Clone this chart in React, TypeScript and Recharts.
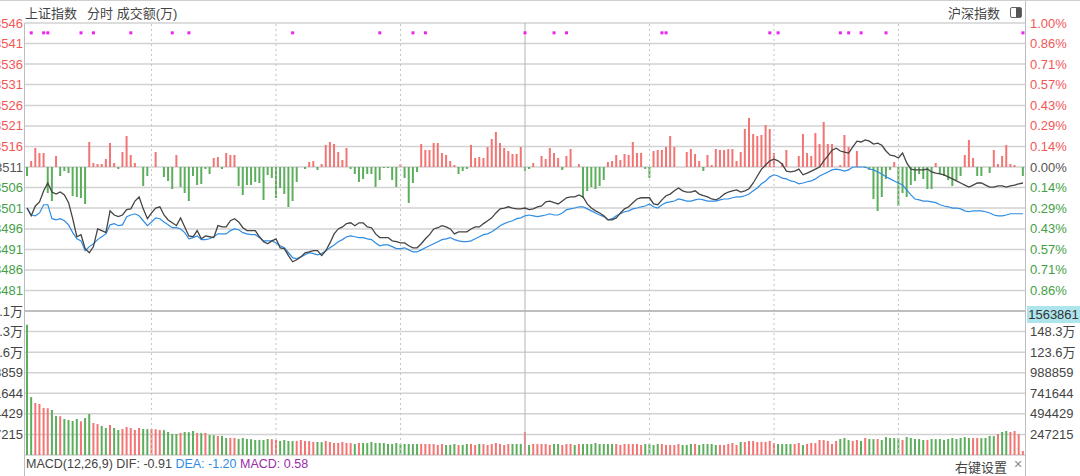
import React from 'react';
import { ComposedChart, Line, Bar, Cell, XAxis, YAxis, CartesianGrid, ReferenceLine } from 'recharts';

// 上证指数 分时 (241 minutes, 09:30 - 15:00)
const PRE_CLOSE = 3511.0;

const priceTicks = [3546.1, 3541.1, 3536.1, 3531.1, 3526.0, 3521.0, 3516.0, 3511.0, 3506.0, 3501.0, 3495.9, 3490.9, 3485.9, 3480.9, 3475.9];
const pctLabels = ['1.00%', '0.86%', '0.71%', '0.57%', '0.43%', '0.29%', '0.14%', '0.00%', '0.14%', '0.29%', '0.43%', '0.57%', '0.71%', '0.86%', '1.00%'];
const volTicks = [0, 247215, 494429, 741644, 988859, 1236074, 1483289, 1730503];

const halfHourMarks = [30, 60, 90, 150, 180, 210];
const NOON = 120;

const signalMinutes = [1, 4, 5, 13, 16, 25, 35, 39, 64, 85, 93, 96, 120, 127, 130, 153, 154, 179, 181, 196, 198, 201, 207, 240];
const SIGNAL_LEVEL = 3543.7;

const macd = { dif: -0.91, dea: -1.2, hist: 0.58 };

// index (black)
const shIndex = [
    3501.0, 3499.1, 3501.5, 3502.5, 3505.2, 3507.1, 3504.9, 3504.4, 3504.9, 3504.2,
    3502.3, 3498.4, 3494.0, 3494.5, 3491.1, 3490.1, 3491.6, 3495.9, 3495.5, 3495.0,
    3500.3, 3499.3, 3498.9, 3499.3, 3500.6, 3500.8, 3502.7, 3503.7, 3500.8, 3498.4,
    3499.8, 3501.0, 3501.3, 3499.3, 3498.1, 3497.4, 3496.7, 3498.6, 3496.4, 3494.2,
    3494.0, 3495.5, 3493.5, 3494.2, 3494.0, 3493.8, 3496.7, 3496.4, 3496.4, 3497.9,
    3498.4, 3497.6, 3496.2, 3495.5, 3495.5, 3495.5, 3494.0, 3492.8, 3492.3, 3493.0,
    3493.5, 3491.3, 3491.1, 3489.4, 3487.9, 3488.4, 3489.1, 3490.1, 3490.3, 3490.6,
    3490.6, 3489.4, 3490.6, 3492.5, 3494.7, 3495.9, 3496.4, 3497.2, 3497.4, 3496.7,
    3497.4, 3497.4, 3496.4, 3496.2, 3494.7, 3493.8, 3493.8, 3493.8, 3493.0, 3492.8,
    3492.5, 3492.5, 3491.8, 3491.3, 3491.3, 3492.3, 3493.5, 3494.5, 3495.9, 3496.2,
    3496.7, 3496.4, 3495.9, 3494.7, 3495.2, 3495.2, 3495.2, 3495.9, 3496.4, 3496.4,
    3497.2, 3497.9, 3498.6, 3499.8, 3500.8, 3501.0, 3501.3, 3501.0, 3500.8, 3500.8,
    3501.0, 3500.6, 3500.8, 3501.3, 3501.5, 3502.5, 3502.7, 3502.3, 3502.0, 3502.7,
    3503.5, 3503.7, 3503.7, 3504.2, 3503.7, 3502.0, 3501.0, 3500.3, 3499.8, 3499.1,
    3498.1, 3498.1, 3498.6, 3499.8, 3500.8, 3501.3, 3502.3, 3503.2, 3503.5, 3503.5,
    3503.5, 3502.0, 3501.8, 3503.0, 3504.0, 3504.4, 3505.2, 3505.9, 3505.2, 3504.9,
    3504.9, 3505.2, 3504.4, 3504.0, 3503.7, 3503.2, 3503.0, 3503.5, 3504.4, 3504.9,
    3505.2, 3505.4, 3504.9, 3505.2, 3505.7, 3507.1, 3508.8, 3510.5, 3511.5, 3512.5,
    3512.9, 3512.5, 3511.7, 3510.0, 3509.8, 3510.0, 3510.5, 3509.1, 3509.5, 3510.0,
    3510.5, 3511.0, 3512.5, 3513.7, 3515.1, 3515.6, 3514.9, 3514.6, 3514.4, 3515.9,
    3517.3, 3517.1, 3517.6, 3517.3, 3516.6, 3516.8, 3516.3, 3514.9, 3513.9, 3513.7,
    3513.2, 3514.4, 3512.0, 3510.5, 3510.3, 3510.3, 3510.3, 3510.5, 3509.8, 3509.5,
    3509.3, 3509.1, 3508.6, 3508.1, 3507.6, 3507.1, 3506.6, 3506.1, 3506.6, 3507.1,
    3507.1, 3506.6, 3506.1, 3506.1, 3506.4, 3506.4, 3506.1, 3506.4, 3506.6, 3506.9,
    3507.1,
];

// blue line
const avgPrice = [
    3501.0, 3499.3, 3499.1, 3499.8, 3501.8, 3501.8, 3498.4, 3498.1, 3498.4, 3497.9,
    3496.9, 3495.0, 3493.5, 3493.0, 3490.6, 3491.6, 3492.3, 3493.3, 3494.0, 3494.7,
    3496.9, 3497.2, 3496.7, 3496.9, 3498.9, 3499.3, 3499.6, 3499.1, 3497.9, 3496.7,
    3497.6, 3498.6, 3498.4, 3497.6, 3496.9, 3496.2, 3496.2, 3495.9, 3495.0, 3493.5,
    3493.8, 3494.2, 3493.3, 3493.3, 3493.5, 3494.0, 3494.7, 3494.7, 3494.7, 3495.5,
    3495.9, 3495.7, 3495.0, 3494.7, 3494.5, 3494.5, 3493.8, 3493.0, 3493.0, 3493.0,
    3492.5, 3491.8, 3491.3, 3490.1, 3488.9, 3488.6, 3489.1, 3489.6, 3490.1, 3489.9,
    3489.6, 3489.9, 3490.6, 3491.3, 3492.0, 3492.8, 3493.3, 3494.0, 3494.2, 3494.0,
    3493.8, 3493.8, 3493.5, 3493.3, 3492.5, 3491.8, 3492.0, 3492.0, 3491.6, 3491.1,
    3491.1, 3491.3, 3490.8, 3490.3, 3490.3, 3490.8, 3491.3, 3491.8, 3492.3, 3492.8,
    3493.3, 3493.5, 3493.8, 3493.3, 3493.0, 3492.8, 3492.8, 3493.0, 3493.5, 3494.0,
    3494.5, 3494.7, 3495.2, 3495.9, 3496.7, 3497.2, 3497.6, 3497.9, 3498.4, 3498.6,
    3499.1, 3499.3, 3499.1, 3498.9, 3499.1, 3499.3, 3499.6, 3499.3, 3499.3, 3499.8,
    3500.6, 3500.8, 3501.0, 3501.3, 3501.3, 3500.8, 3500.3, 3499.8, 3499.3, 3498.9,
    3498.1, 3498.4, 3499.1, 3499.6, 3500.1, 3500.3, 3500.8, 3501.0, 3501.3, 3501.5,
    3502.0, 3501.3, 3501.0, 3501.8, 3502.3, 3502.5, 3502.7, 3503.2, 3503.0, 3502.7,
    3502.7, 3503.0, 3503.2, 3503.0, 3502.7, 3502.7, 3502.7, 3503.0, 3503.2, 3503.2,
    3503.5, 3503.7, 3503.7, 3504.0, 3504.4, 3505.2, 3505.9, 3506.9, 3507.6, 3508.6,
    3509.1, 3508.8, 3508.3, 3508.1, 3507.6, 3507.4, 3506.9, 3507.1, 3507.4, 3507.6,
    3508.1, 3508.8, 3509.3, 3509.8, 3510.3, 3510.5, 3510.3, 3510.0, 3510.3, 3511.0,
    3511.0, 3511.0, 3511.0, 3510.5, 3510.3, 3509.8, 3509.3, 3508.6, 3508.1, 3507.6,
    3507.1, 3506.6, 3505.4, 3504.2, 3503.2, 3503.0, 3502.7, 3502.7, 3502.5, 3502.3,
    3501.8, 3501.5, 3501.3, 3501.0, 3501.0, 3500.8, 3500.3, 3500.1, 3500.3, 3500.3,
    3500.3, 3500.1, 3499.8, 3499.3, 3499.1, 3499.1, 3499.3, 3499.6, 3499.6, 3499.6,
    3499.6,
];

// red / green strength bars around the pre-close line
const strength = [
    -9, 6, 19, 14, 14, -26, -34, 11, -9, -4,
    -6, -29, -30, -31, -37, 25, 4, 3, 3, 8,
    24, 4, -2, 15, 31, 12, 4, 0, -19, -9,
    0, 15, 0, -10, -14, -22, 12, -20, -26, -34,
    -9, -18, -17, -2, -7, 9, 10, -2, 14, 12,
    12, -19, -28, -18, -18, -15, -16, -33, -8, -11,
    -31, -21, -27, -40, -34, -15, 0, -2, 5, 6,
    -3, 3, 22, 25, 23, 15, 7, 19, -2, -7,
    -15, -12, -7, -7, -20, -13, -1, -1, -13, -20,
    3, -11, -36, -16, -5, 23, 17, 17, 24, 24,
    14, 12, 6, 2, -7, -4, -2, 22, 9, 10,
    9, 20, 28, 35, 24, 19, 16, 13, 13, 20,
    -4, -2, 4, 0, 11, 8, 19, 14, 9, -3,
    11, 18, 0, 3, -31, -24, -20, -22, -19, -13,
    5, 6, 12, 7, 13, 12, 25, 14, 14, -2,
    -11, 16, 17, 17, 20, 31, 20, 0, 0, 15,
    18, 13, 6, -4, 12, 2, 18, 17, 17, 18,
    18, 6, 15, 38, 49, 33, 31, 32, 42, 38,
    14, 0, 4, 17, 0, 0, 11, 33, 14, 11,
    34, 23, 45, 23, 23, 0, 2, 32, 20, 0,
    16, 0, -1, -3, -32, -44, -30, -12, -3, 5,
    -39, -26, -30, -18, -14, -7, -12, -22, -22, 4,
    -7, -9, -13, -19, -13, -9, 12, 27, 9, -9,
    -9, 0, -6, 17, 3, 11, 22, 3, 2, 0,
    -9,
];

// 成交额
const volume = [
    1563861, 697000, 624900, 612900, 564800, 561200, 540800, 468700, 466300, 432600,
    420600, 408600, 432600, 404900, 444700, 492700, 384600, 372600, 348500, 324500,
    360500, 324500, 300500, 312500, 336500, 324500, 300500, 324500, 312500, 310900,
    312500, 309600, 300500, 298700, 276400, 252400, 252400, 264400, 276400, 274100,
    288400, 264400, 262800, 264400, 240400, 238100, 228300, 229500, 204300, 206600,
    204300, 192300, 204300, 192300, 190100, 180300, 181900, 180300, 192300, 190500,
    180300, 168300, 180300, 168300, 167000, 168300, 180300, 168300, 166400, 156200,
    156200, 154900, 168300, 156200, 144200, 145600, 156200, 144200, 143100, 132200,
    144200, 144200, 142800, 156200, 144200, 144200, 143500, 132200, 132200, 144200,
    132200, 133400, 132200, 131100, 132200, 133900, 132200, 132200, 131300, 120200,
    132200, 120200, 121800, 132200, 120200, 122500, 132200, 133100, 120200, 132200,
    131000, 120200, 132200, 144200, 132200, 120200, 132200, 131400, 132200, 133300,
    276400, 120200, 132200, 131200, 132200, 133000, 120200, 132200, 131500, 120200,
    132200, 133600, 120200, 132200, 131000, 132200, 133100, 144200, 132200, 131800,
    132200, 133400, 132200, 120200, 132200, 131300, 132200, 133700, 120200, 132200,
    131600, 120200, 132200, 133000, 120200, 121400, 120200, 132200, 120200, 121900,
    132200, 131700, 120200, 132200, 133200, 132200, 120200, 121100, 120200, 132200,
    144200, 120200, 156200, 154600, 168300, 166800, 156200, 157400, 156200, 168300,
    144200, 132200, 131500, 132200, 133000, 132200, 144200, 120200, 132200, 144200,
    142600, 180300, 178800, 168300, 132200, 168300, 192300, 204300, 180300, 168300,
    180300, 168300, 204300, 192300, 190800, 192300, 180300, 216300, 204300, 202900,
    204300, 180300, 216300, 204300, 192300, 191200, 180300, 181500, 192300, 190700,
    192300, 180300, 192300, 204300, 192300, 204300, 216300, 204300, 203100, 204300,
    202600, 204300, 228300, 226900, 252400, 276400, 288400, 276400, 288400, 252400,
    48100,
];

const FONT = '"Liberation Sans", "Noto Sans CJK SC", sans-serif';
const RED = '#f47474';
const GREEN = '#5cae5c';
const RED_TXT = '#f25757';
const GREEN_TXT = '#45a045';
const GRID = '#d2d2d2';

const rows = shIndex.map((v, i) => ({
    i,
    price: v,
    avg: avgPrice[i],
    str: strength[i],
    vol: volume[i],
    up: v > (i === 0 ? PRE_CLOSE : shIndex[i - 1]),
    sig: signalMinutes.includes(i) ? SIGNAL_LEVEL : null,
}));

const maxVol = Math.max(...volume);

const priceColor = (v: number) =>
    Math.abs(v - PRE_CLOSE) < 0.05 ? '#555' : v > PRE_CLOSE ? RED_TXT : GREEN_TXT;

const fmtVol = (v: number) => (v >= 1000000 ? (v / 10000).toFixed(1) + '万' : String(v));

const LeftPriceTick = ({ x, y, payload }: any) => {
    if (payload.value === priceTicks[priceTicks.length - 1]) return <g />;
    return (
        <text x={x} y={y} dy={4.5} textAnchor="end" fontSize={13} fontFamily={FONT} fill={priceColor(payload.value)}>
            {Math.round(payload.value)}
        </text>
    );
};

const RightPctTick = ({ x, y, payload }: any) => {
    const k = priceTicks.indexOf(payload.value);
    if (k < 0 || k === priceTicks.length - 1) return <g />;
    return (
        <text x={x} y={y} dy={4.5} textAnchor="start" fontSize={13} fontFamily={FONT} fill={priceColor(payload.value)}>
            {pctLabels[k]}
        </text>
    );
};

const VolTickLeft = ({ x, y, payload }: any) => {
    if (!payload.value) return <g />;
    return (
        <text x={x} y={y} dy={4.5} textAnchor="end" fontSize={13} fontFamily={FONT} fill="#444">
            {fmtVol(payload.value)}
        </text>
    );
};

const VolTickRight = ({ x, y, payload }: any) => {
    if (!payload.value) return <g />;
    return (
        <text x={x} y={y} dy={4.5} textAnchor="start" fontSize={13} fontFamily={FONT} fill="#444">
            {fmtVol(payload.value)}
        </text>
    );
};

const SignalDot = (props: any) => {
    const { cx, cy, payload, index } = props;
    if (!payload || payload.sig == null || cy == null) return <g key={`s${index}`} />;
    return <rect key={`s${index}`} x={cx - 1.5} y={cy - 1.5} width={3} height={3} fill="#ee22ee" />;
};

function timeLines() {
    return [
        ...halfHourMarks.map((m) => (
            <ReferenceLine key={`t${m}`} x={m} stroke="#c4c4c4" strokeDasharray="2 3" />
        )),
        <ReferenceLine key="noon" x={NOON} stroke="#b4b4b4" />,
    ];
}

export default function App() {
    return (
        <div
            style={{
                position: 'absolute',
                left: 0,
                top: 0,
                width: 1080,
                height: 476,
                background: '#fff',
                fontFamily: FONT,
                overflow: 'hidden',
                borderTop: '1px solid #cfcfcf',
                boxSizing: 'border-box',
            }}
        >
            {/* header */}
            <div style={{ position: 'absolute', left: 25, top: 2, fontSize: 13, color: '#444', whiteSpace: 'nowrap' }}>
                上证指数<span style={{ marginLeft: 10 }}>分时 成交额(万)</span>
            </div>
            <div style={{ position: 'absolute', left: 948, top: 2, fontSize: 13, color: '#444' }}>沪深指数</div>
            <div
                style={{
                    position: 'absolute',
                    left: 1010,
                    top: 6,
                    width: 10,
                    height: 9,
                    border: '1px solid #666',
                    borderRadius: 2,
                    background: 'linear-gradient(90deg, #fff 55%, #555 55%)',
                }}
            />

            {/* price panel */}
            <div style={{ position: 'absolute', left: 0, top: 0 }}>
                <ComposedChart width={1080} height={320} data={rows} margin={{ top: 22, right: 0, bottom: 10, left: 0 }}>
                    <CartesianGrid vertical={false} stroke={GRID} strokeWidth={1.5} />
                    <XAxis dataKey="i" hide />
                    <YAxis
                        width={25}
                        domain={[priceTicks[priceTicks.length - 1], priceTicks[0]]}
                        ticks={priceTicks}
                        interval={0}
                        allowDataOverflow
                        axisLine={false}
                        tickLine={false}
                        tickSize={0}
                        tickMargin={2}
                        tick={LeftPriceTick}
                    />
                    <YAxis
                        yAxisId="r"
                        orientation="right"
                        width={55}
                        domain={[priceTicks[priceTicks.length - 1], priceTicks[0]]}
                        ticks={priceTicks}
                        interval={0}
                        allowDataOverflow
                        axisLine={false}
                        tickLine={false}
                        tickSize={0}
                        tickMargin={5}
                        tick={RightPctTick}
                    />
                    <YAxis yAxisId="s" hide domain={[-144, 144]} allowDataOverflow />
                    {timeLines()}
                    <Bar yAxisId="s" dataKey="str" barSize={2} isAnimationActive={false}>
                        {rows.map((r) => (
                            <Cell key={r.i} fill={r.str >= 0 ? RED : GREEN} />
                        ))}
                    </Bar>
                    <Line dataKey="avg" stroke="#2f8de4" strokeWidth={1.2} dot={false} activeDot={false} isAnimationActive={false} />
                    <Line dataKey="price" stroke="#444" strokeWidth={1.3} dot={false} activeDot={false} isAnimationActive={false} />
                    <Line dataKey="sig" stroke="none" dot={SignalDot} activeDot={false} isAnimationActive={false} />
                </ComposedChart>
            </div>

            {/* volume panel */}
            <div style={{ position: 'absolute', left: 0, top: 300 }}>
                <ComposedChart width={1080} height={164} data={rows} margin={{ top: 10, right: 0, bottom: 10, left: 0 }}>
                    <CartesianGrid vertical={false} stroke={GRID} strokeWidth={1.5} />
                    <XAxis dataKey="i" hide />
                    <YAxis
                        width={25}
                        domain={[0, volTicks[volTicks.length - 1]]}
                        ticks={volTicks}
                        interval={0}
                        allowDataOverflow
                        axisLine={false}
                        tickLine={false}
                        tickSize={0}
                        tickMargin={2}
                        tick={VolTickLeft}
                    />
                    <YAxis
                        yAxisId="vr"
                        orientation="right"
                        width={55}
                        domain={[0, volTicks[volTicks.length - 1]]}
                        ticks={volTicks}
                        interval={0}
                        allowDataOverflow
                        axisLine={false}
                        tickLine={false}
                        tickSize={0}
                        tickMargin={5}
                        tick={VolTickRight}
                    />
                    {timeLines()}
                    <ReferenceLine y={volTicks[volTicks.length - 1]} stroke="#a8a8a8" />
                    <Bar dataKey="vol" barSize={2} isAnimationActive={false}>
                        {rows.map((r) => (
                            <Cell key={r.i} fill={r.up ? RED : GREEN} />
                        ))}
                    </Bar>
                </ComposedChart>
            </div>

            {/* max volume marker */}
            <div
                style={{
                    position: 'absolute',
                    left: 1027,
                    top: 305,
                    width: 53,
                    height: 17,
                    background: '#aee5ec',
                    fontSize: 13,
                    lineHeight: '17px',
                    color: '#333',
                    textAlign: 'center',
                }}
            >
                {maxVol}
            </div>

            {/* frame */}
            <div style={{ position: 'absolute', left: 24, top: 22, width: 1, height: 454, background: '#bdbdbd' }} />
            <div style={{ position: 'absolute', left: 1025, top: 0, width: 1, height: 476, background: '#bdbdbd' }} />

            {/* footer */}
            <div style={{ position: 'absolute', left: 26, top: 456, fontSize: 12.5, whiteSpace: 'nowrap', color: '#444' }}>
                MACD(12,26,9) DIF: {macd.dif.toFixed(2)}{' '}
                <span style={{ color: '#2f8de4' }}>DEA: {macd.dea.toFixed(2)}</span>{' '}
                <span style={{ color: '#9a2ca8' }}>MACD: {macd.hist.toFixed(2)}</span>
            </div>
            <div style={{ position: 'absolute', left: 955, top: 456, fontSize: 13, color: '#444' }}>右键设置</div>
            <div style={{ position: 'absolute', left: 1014, top: 455, fontSize: 14, color: '#888' }}>×</div>
        </div>
    );
}
